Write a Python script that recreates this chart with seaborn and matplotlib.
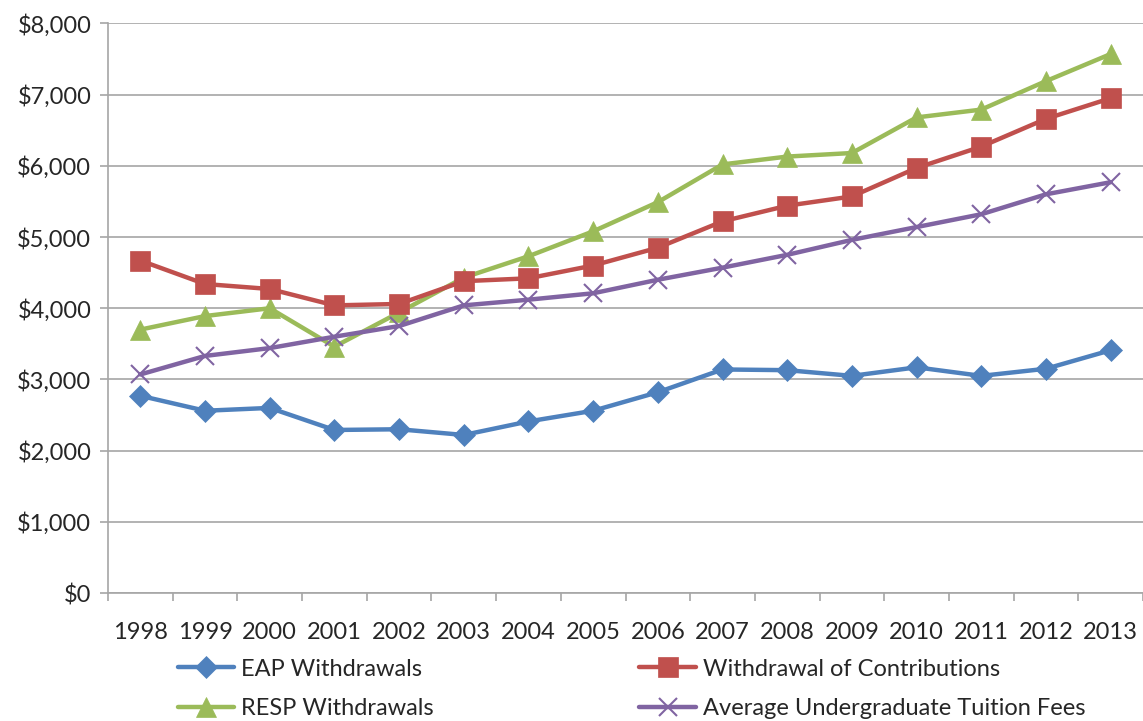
import numpy as np
import pandas as pd
import seaborn as sns
import matplotlib
matplotlib.use('agg')
import matplotlib.pyplot as plt
from matplotlib.ticker import FuncFormatter, FixedLocator

years = ['1998', '1999', '2000', '2001', '2002', '2003', '2004', '2005',
         '2006', '2007', '2008', '2009', '2010', '2011', '2012', '2013']
eap = [2770, 2560, 2600, 2290, 2300, 2220, 2410, 2560,
       2820, 3140, 3130, 3050, 3170, 3050, 3150, 3410]
contributions = [4670, 4340, 4270, 4040, 4060, 4380, 4420, 4600,
                 4850, 5220, 5440, 5570, 5970, 6270, 6660, 6950]
resp = [3700, 3890, 4000, 3460, 3940, 4430, 4730, 5080,
        5490, 6020, 6130, 6180, 6680, 6790, 7190, 7570]
tuition = [3070, 3330, 3440, 3600, 3750, 4040, 4120, 4210,
           4400, 4570, 4750, 4960, 5140, 5320, 5600, 5770]

# legend fills column-wise, so order gives the two rows of the reference
series = [
    ('EAP Withdrawals', eap, '#4F81BD', 'D', 11),
    ('RESP Withdrawals', resp, '#9BBB59', '^', 15),
    ('Withdrawal of Contributions', contributions, '#C0504D', 's', 14),
    ('Average Undergraduate Tuition Fees', tuition, '#8064A2', 'x', 13),
]

sns.set_style('white')
plt.rcParams['font.family'] = ['Lato', 'DejaVu Sans']

fig = plt.figure(figsize=(11.43, 7.21), dpi=100)
ax = fig.add_axes([0.0945, 0.1775, 0.9055, 0.79])

pos = np.arange(len(years))
handles = []
for name, vals, color, marker, ms in series:
    df = pd.DataFrame({'x': pos, 'y': vals})
    sns.lineplot(data=df, x='x', y='y', ax=ax, color=color, linewidth=3.2,
                 marker=marker, markersize=ms, markeredgecolor=color,
                 markeredgewidth=1.5 if marker == 'x' else 0.5,
                 label=name, legend=False)
    handles.append(ax.lines[-1])

ax.set_xlim(-0.5, 15.5)
ax.set_ylim(0, 8000)
ax.set_yticks(np.arange(0, 8001, 1000))
ax.yaxis.set_major_formatter(FuncFormatter(lambda v, p: '${:,.0f}'.format(v)))
ax.set_xticks(pos)
ax.set_xticklabels(years)
ax.xaxis.set_minor_locator(FixedLocator(np.arange(-0.5, 16, 1)))
ax.set_xlabel('')
ax.set_ylabel('')

ax.grid(axis='y', color='#A6A6A6', linewidth=1.2)
ax.set_axisbelow(True)
for s in ['top', 'right']:
    ax.spines[s].set_visible(False)
for s in ['left', 'bottom']:
    ax.spines[s].set_color('#A6A6A6')
    ax.spines[s].set_linewidth(1.2)

ax.tick_params(axis='y', which='major', direction='out', length=6, width=1.2,
               color='#A6A6A6', labelsize=17, labelcolor='#262626', pad=6, left=True)
ax.tick_params(axis='x', which='major', length=0, labelsize=17,
               labelcolor='#262626', pad=21)
ax.tick_params(axis='x', which='minor', direction='out', length=6, width=1.2,
               color='#A6A6A6', bottom=True)

fig.legend(handles=handles, labels=[s[0] for s in series], ncol=2,
           loc='upper left', bbox_to_anchor=(0.145, 0.103), frameon=False,
           fontsize=17, handlelength=2.4, handletextpad=0.3,
           columnspacing=8.7, labelspacing=0.8, borderpad=0,
           labelcolor='#262626')

fig.savefig('out.png', dpi=100)
